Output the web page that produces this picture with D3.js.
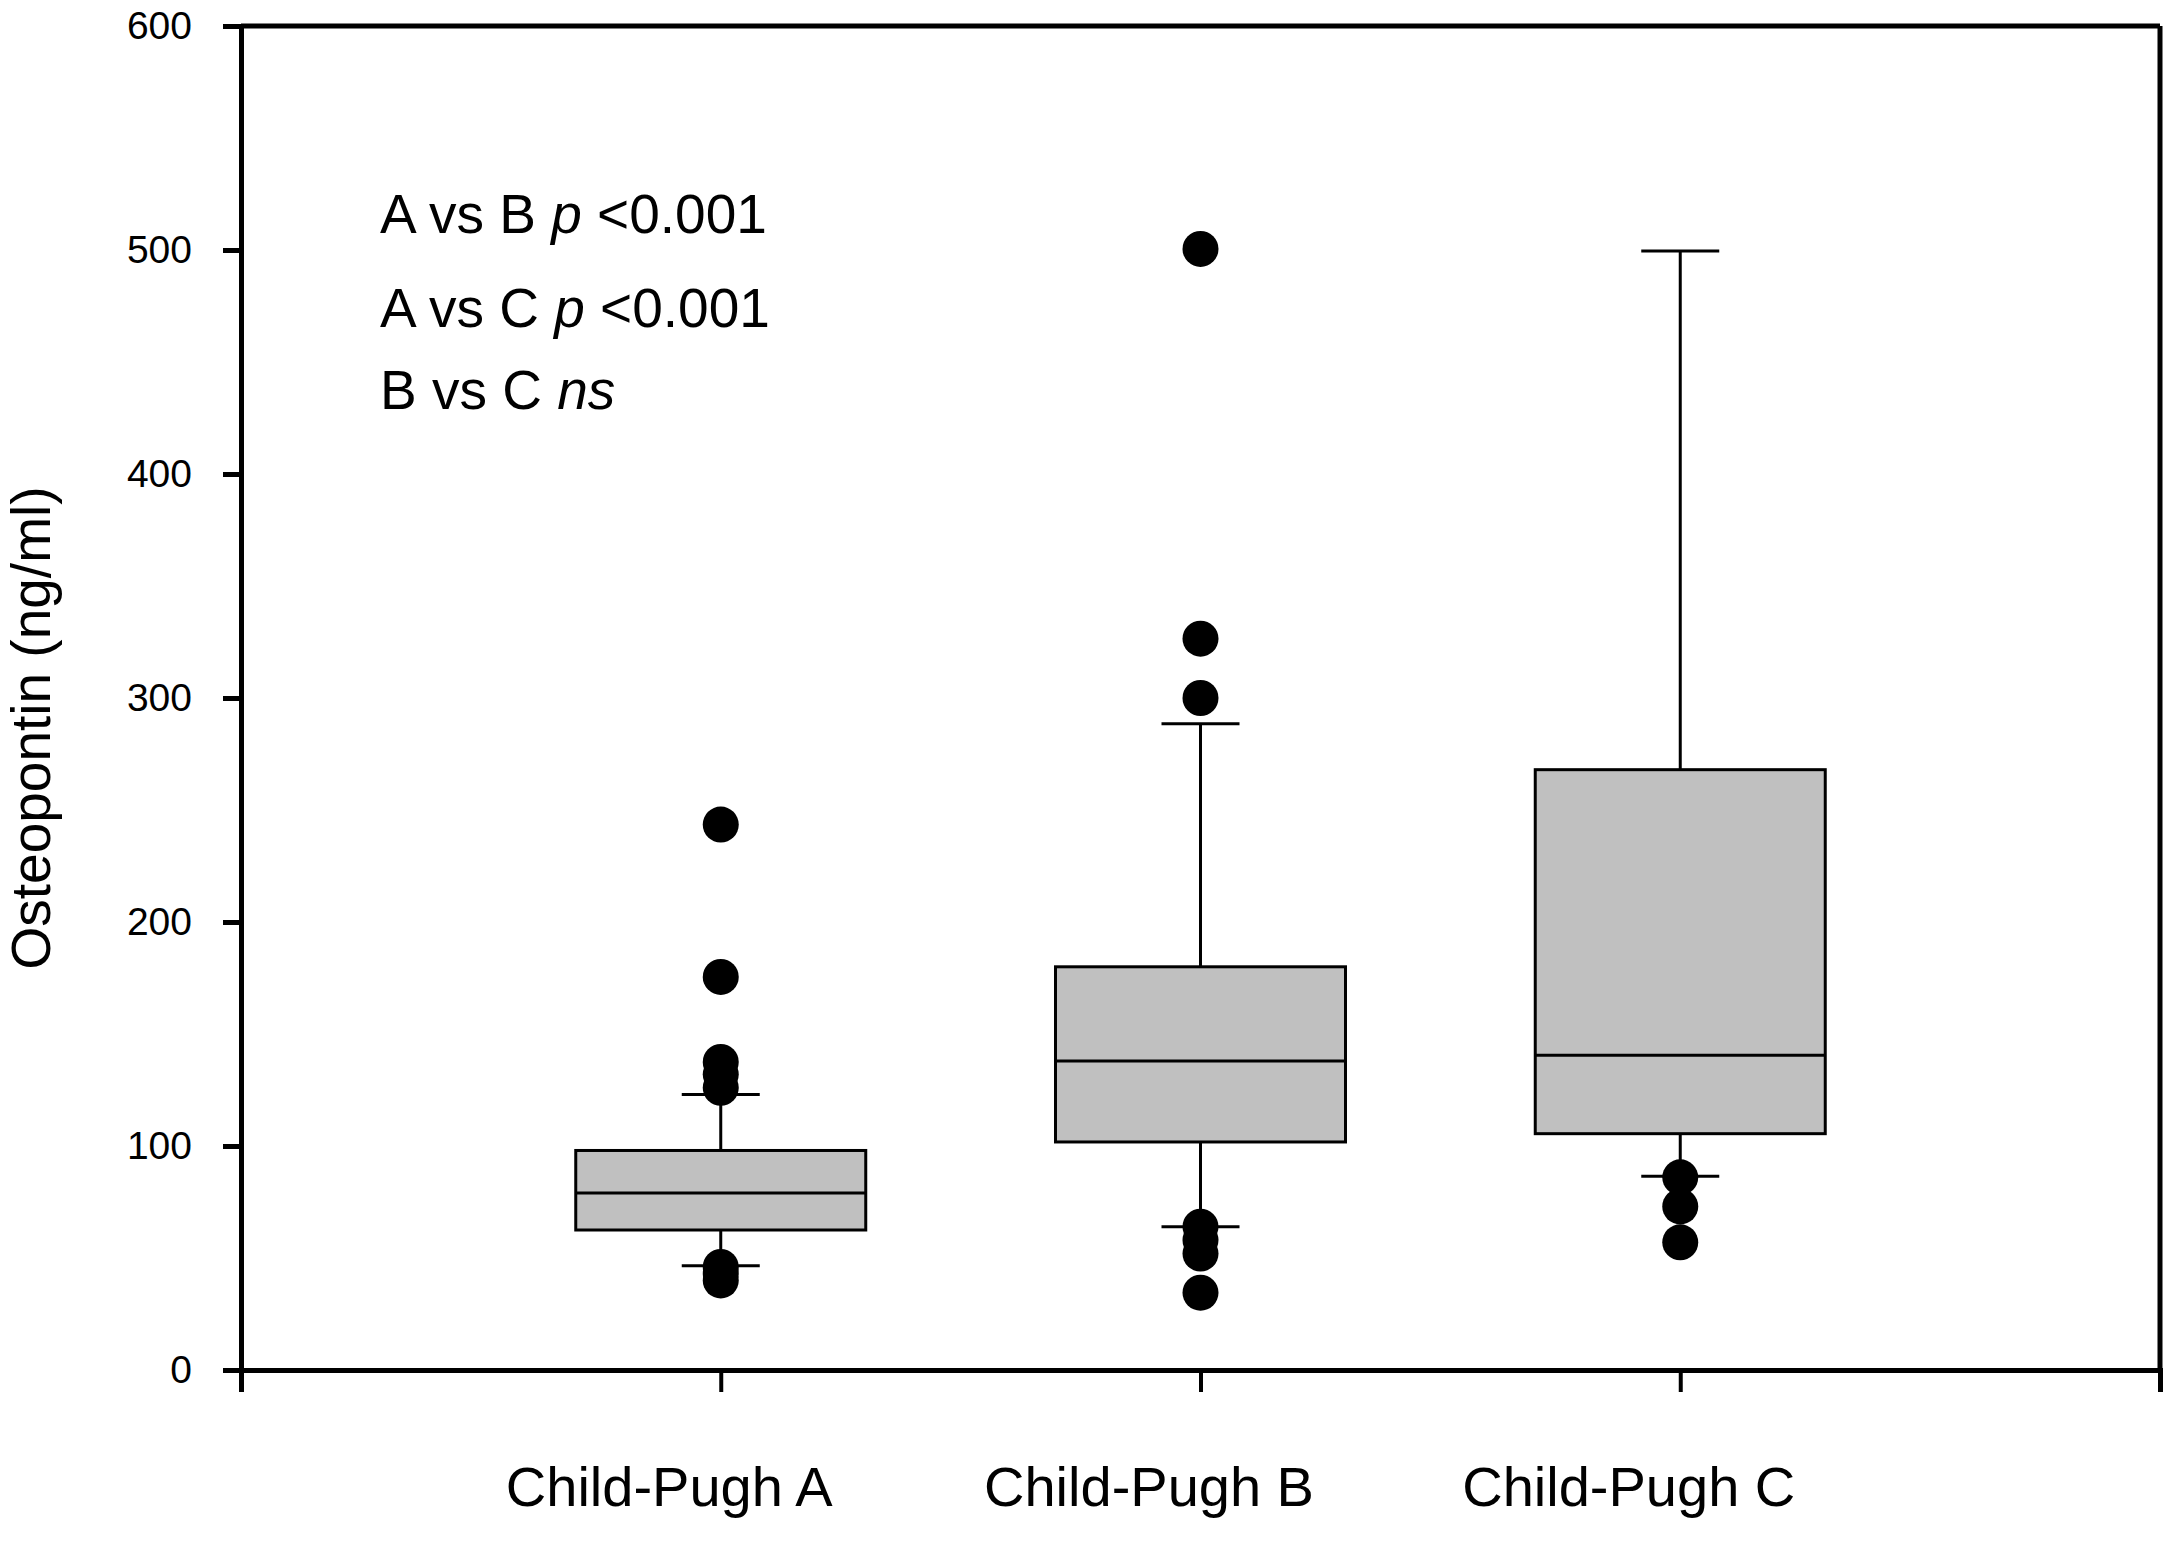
<!DOCTYPE html>
<html>
<head>
  <meta charset="utf-8">
  <title>Osteopontin by Child-Pugh class</title>
  <script src="https://d3js.org/d3.v7.min.js"></script>
  <style>
    body { margin: 0; background: #fff; }
    text { font-family: Arial, "Liberation Sans", Helvetica, sans-serif; fill: #000; }
  </style>
</head>
<body>
  <svg id="chart" width="2165" height="1545"></svg>
  <script>
    // values
    const groups = ["Child-Pugh A", "Child-Pugh B", "Child-Pugh C"];
    const q1 = [62.5, 101.8, 105.5];
    const medians = [79, 138, 140.5];
    const q3 = [98, 180, 268];
    const whiskerLow = [46.5, 64, 86.5];
    const whiskerHigh = [123, 288.5, 499.5];
    const outliersA = [243.5, 175.5, 137.5, 132, 126, 46, 43, 40];
    const outliersB = [500.5, 326.5, 300, 64, 58, 52, 34.5];
    const outliersC = [86, 73, 57];
    const yTicks = [0, 100, 200, 300, 400, 500, 600];

    const svg = d3.select("#chart");
    const plotLeft = 241, plotRight = 2160, plotTop = 26, plotBottom = 1370;

    const yScale = d3.scaleLinear().domain([0, 600]).range([plotBottom, plotTop]);
    const xScale = d3.scalePoint().domain(groups).range([plotLeft, plotRight]).padding(1);

    // frame: top and right borders
    svg.append("line")
      .attr("x1", plotLeft).attr("x2", plotRight)
      .attr("y1", yScale(600)).attr("y2", yScale(600))
      .attr("stroke", "#000").attr("stroke-width", 5);
    svg.append("line")
      .attr("x1", plotRight).attr("x2", plotRight)
      .attr("y1", yScale(600)).attr("y2", yScale(0))
      .attr("stroke", "#000").attr("stroke-width", 5);

    // y axis
    const leftAxis = d3.axisLeft(yScale)
      .tickValues(yTicks)
      .tickSize(18)
      .tickSizeOuter(0)
      .tickPadding(31);
    const yAxisG = svg.append("g")
      .attr("transform", `translate(${plotLeft},0)`)
      .call(leftAxis);
    yAxisG.select(".domain").attr("stroke-width", 5);
    yAxisG.selectAll(".tick line").attr("stroke-width", 5);
    yAxisG.selectAll(".tick text")
      .style("font-size", "39px")
      .style("font-family", "Arial, 'Liberation Sans', sans-serif");

    // x axis
    const bottomAxis = d3.axisBottom(xScale)
      .tickSize(22)
      .tickSizeOuter(22);
    const xAxisG = svg.append("g")
      .attr("transform", `translate(0,${plotBottom})`)
      .call(bottomAxis);
    xAxisG.select(".domain").attr("stroke-width", 5);
    xAxisG.selectAll(".tick line").attr("stroke-width", 4);
    xAxisG.selectAll(".tick text")
      .attr("y", 136)
      .attr("dy", 0)
      .attr("dx", -52)
      .style("font-size", "56px")
      .style("font-family", "Arial, 'Liberation Sans', sans-serif");

    // y axis title
    svg.append("text")
      .attr("transform", "translate(50,728) rotate(-90)")
      .attr("text-anchor", "middle")
      .style("font-size", "55px")
      .text("Osteopontin (ng/ml)");

    // boxes
    const boxWidth = 290;
    const capWidth = 78;
    const boxes = groups.map((g, i) => ({
      group: g, q1: q1[i], med: medians[i], q3: q3[i],
      lo: whiskerLow[i], hi: whiskerHigh[i]
    }));

    const boxG = svg.append("g");
    boxes.forEach(d => {
      const cx = xScale(d.group);
      const g = boxG.append("g").attr("stroke", "#000").attr("stroke-width", 3);
      // whiskers
      g.append("line")
        .attr("x1", cx).attr("x2", cx)
        .attr("y1", yScale(d.q3)).attr("y2", yScale(d.hi));
      g.append("line")
        .attr("x1", cx).attr("x2", cx)
        .attr("y1", yScale(d.q1)).attr("y2", yScale(d.lo));
      g.append("line")
        .attr("x1", cx - capWidth / 2).attr("x2", cx + capWidth / 2)
        .attr("y1", yScale(d.hi)).attr("y2", yScale(d.hi));
      g.append("line")
        .attr("x1", cx - capWidth / 2).attr("x2", cx + capWidth / 2)
        .attr("y1", yScale(d.lo)).attr("y2", yScale(d.lo));
      // box
      g.append("rect")
        .attr("x", cx - boxWidth / 2)
        .attr("width", boxWidth)
        .attr("y", yScale(d.q3))
        .attr("height", yScale(d.q1) - yScale(d.q3))
        .attr("fill", "#c0c0c0");
      // median
      g.append("line")
        .attr("x1", cx - boxWidth / 2).attr("x2", cx + boxWidth / 2)
        .attr("y1", yScale(d.med)).attr("y2", yScale(d.med));
    });

    // outliers
    const outlierSets = [outliersA, outliersB, outliersC];
    const points = [];
    outlierSets.forEach((vals, i) => vals.forEach(v => points.push({ group: groups[i], val: v })));
    svg.append("g").selectAll("circle")
      .data(points)
      .join("circle")
      .attr("cx", d => xScale(d.group))
      .attr("cy", d => yScale(d.val))
      .attr("r", 18)
      .attr("fill", "#000");

    // annotations
    const notes = svg.append("g").style("font-size", "55px");
    const l1 = notes.append("text").attr("x", 380).attr("y", 233);
    l1.append("tspan").text("A vs B ");
    l1.append("tspan").style("font-style", "italic").text("p");
    l1.append("tspan").text(" <0.001");
    const l2 = notes.append("text").attr("x", 380).attr("y", 327);
    l2.append("tspan").text("A vs C ");
    l2.append("tspan").style("font-style", "italic").text("p");
    l2.append("tspan").text(" <0.001");
    const l3 = notes.append("text").attr("x", 380).attr("y", 409);
    l3.append("tspan").text("B vs C ");
    l3.append("tspan").style("font-style", "italic").text("ns");
  </script>
</body>
</html>
